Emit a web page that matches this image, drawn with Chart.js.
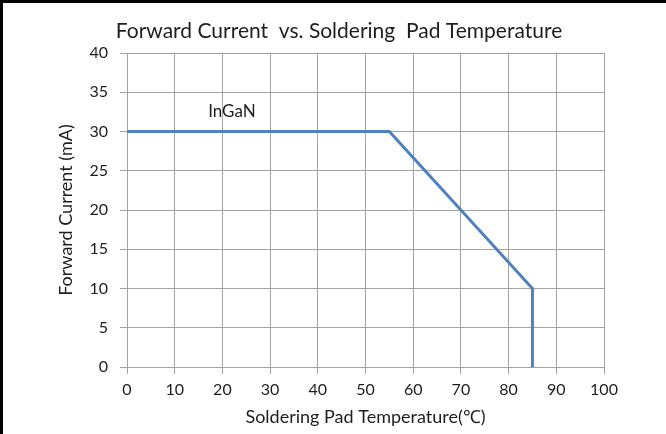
<!DOCTYPE html>
<html>
<head>
<meta charset="utf-8">
<title>Forward Current vs. Soldering Pad Temperature</title>
<script src="https://cdn.jsdelivr.net/npm/chart.js@4.4.0/dist/chart.umd.min.js"></script>
<style>
    html, body { margin: 0; padding: 0; background: #ffffff; }
    #wrap { width: 666px; height: 434px; }
</style>
</head>
<body>
<div id="wrap"><canvas id="deratingChart" width="666" height="434"></canvas></div>
<script>
// derating curve
const temperatures = [0, 55, 85, 85];
const currents = [30, 30, 10, 0];
const xTicks = [0, 10, 20, 30, 40, 50, 60, 70, 80, 90, 100];
const yTicks = [0, 5, 10, 15, 20, 25, 30, 35, 40];
const seriesName = "InGaN";
const seriesLabelAt = [22, 32.6];
const chartTitle = "Forward Current  vs. Soldering  Pad Temperature";

const gridGray = "#a3a3a3";
const textColor = "#1e1e1e";
const fontStack = "Lato, 'Open Sans', sans-serif";

Chart.defaults.font.family = fontStack;
Chart.defaults.color = textColor;

const framePlugin = {
    id: "frame",
    beforeDraw(chart) {
        const ctx = chart.ctx;
        ctx.save();
        ctx.fillStyle = "#ffffff";
        ctx.fillRect(0, 0, chart.width, chart.height);
        ctx.restore();
    },
    afterDraw(chart) {
        const ctx = chart.ctx;
        ctx.save();
        ctx.fillStyle = "#000000";
        ctx.fillRect(0, 0, chart.width, 3);
        ctx.fillRect(0, 0, 3, chart.height);

        ctx.fillStyle = textColor;
        ctx.font = "21px " + fontStack;
        ctx.textAlign = "center";
        ctx.textBaseline = "alphabetic";
        ctx.fillText(chartTitle, 339, 37.5);
        ctx.restore();
    }
};

const seriesLabelPlugin = {
    id: "seriesLabel",
    afterDatasetsDraw(chart) {
        const ctx = chart.ctx;
        const x = chart.scales.x.getPixelForValue(seriesLabelAt[0]);
        const y = chart.scales.y.getPixelForValue(seriesLabelAt[1]);
        ctx.save();
        ctx.fillStyle = textColor;
        ctx.font = "17px " + fontStack;
        ctx.textAlign = "center";
        ctx.textBaseline = "middle";
        ctx.fillText(seriesName, x, y);
        ctx.restore();
    }
};

const points = temperatures.map((t, i) => ({ x: t, y: currents[i] }));

new Chart(document.getElementById("deratingChart"), {
    type: "line",
    data: {
        datasets: [{
            label: seriesName,
            data: points,
            borderColor: "#4f81bd",
            backgroundColor: "#4f81bd",
            borderWidth: 3,
            borderJoinStyle: "miter",
            pointRadius: 0,
            tension: 0,
            fill: false
        }]
    },
    options: {
        responsive: false,
        animation: false,
        layout: { padding: { left: 0, right: 62, top: 53, bottom: 0 } },
        plugins: {
            legend: { display: false },
            title: { display: false },
            tooltip: { enabled: false }
        },
        scales: {
            x: {
                type: "linear",
                min: 0,
                max: 100,
                afterBuildTicks: (scale) => { scale.ticks = xTicks.map((v) => ({ value: v })); },
                afterFit: (scale) => { scale.height = 67; },
                grid: { color: gridGray, tickLength: 7, lineWidth: 1 },
                border: { color: gridGray, width: 1 },
                ticks: { padding: 6, font: { size: 16 }, color: textColor, maxRotation: 0 },
                title: {
                    display: true,
                    text: "Soldering Pad Temperature(\u2103)",
                    font: { size: 18 },
                    color: textColor,
                    padding: { top: 0, bottom: 6 }
                }
            },
            y: {
                min: 0,
                max: 40,
                afterBuildTicks: (scale) => { scale.ticks = yTicks.map((v) => ({ value: v })); },
                afterFit: (scale) => { scale.width = 127; },
                grid: { color: gridGray, tickLength: 7, lineWidth: 1 },
                border: { color: gridGray, width: 1 },
                ticks: { padding: 12, font: { size: 16 }, color: textColor },
                title: {
                    display: true,
                    text: "Forward Current (mA)",
                    font: { size: 18 },
                    color: textColor,
                    padding: { top: 55, bottom: 0 }
                }
            }
        }
    },
    plugins: [framePlugin, seriesLabelPlugin]
});
</script>
</body>
</html>
